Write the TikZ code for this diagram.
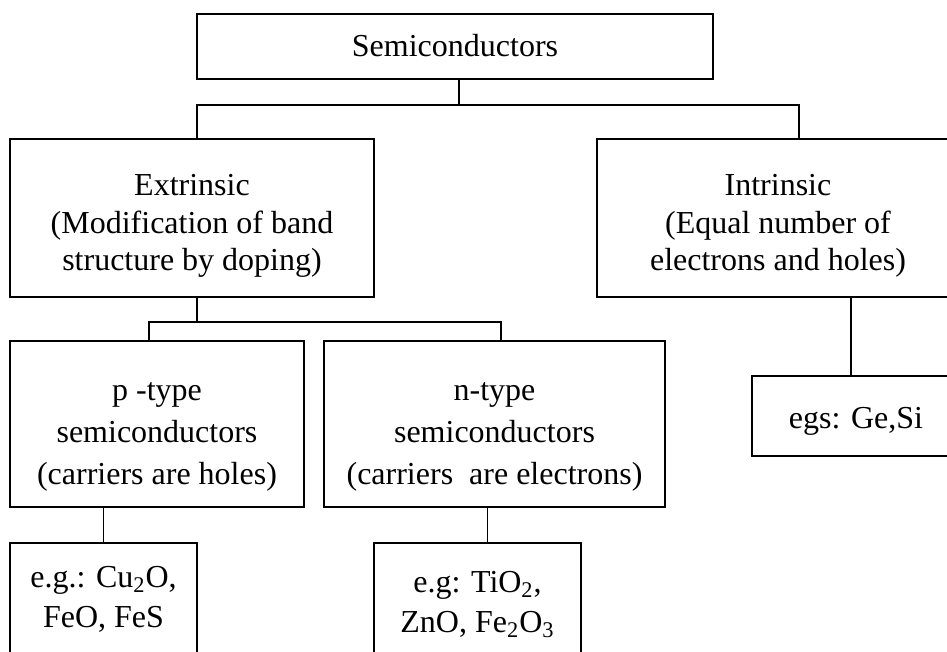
\documentclass[tikz,border=0pt]{standalone}
\usepackage{fontspec}
\setmainfont{Liberation Serif}
\usetikzlibrary{positioning}
% text block moved down inside its box, box size kept
\newcommand{\lowtext}[2]{\raisebox{-#1}[\height][\depth]{\begin{tabular}{@{}c@{}}#2\end{tabular}}}

\begin{document}
\begin{tikzpicture}[x=0.5pt, y=-0.5pt,
   box/.style={draw, line width=0.7pt, inner sep=0pt,
               font=\fontsize{16}{18.75}\selectfont},
   tallbox/.style={box, font=\fontsize{16}{21}\selectfont},
   exbox/.style={box, font=\fontsize{16}{20}\selectfont},
   link/.style={line width=0.7pt}]

 \useasboundingbox (0,0) rectangle (947,652);
 \clip (0,0) rectangle (947,652);

 \node[box, minimum width=258pt, minimum height=32.5pt] (semi) at (455,46.5)
      {\lowtext{1.5pt}{Semiconductors}};
 \node[box, minimum width=182pt, minimum height=79pt] (extr) at (192,218)
      {\lowtext{4pt}{Extrinsic\\(Modification of band\\structure by doping)}};
 \node[box, minimum width=181pt, minimum height=79pt] (intr) at (778,218)
      {\lowtext{4pt}{Intrinsic\\(Equal number of\\electrons and holes)}};

 \node[tallbox, minimum width=147pt, minimum height=83pt] (ptype) at (157,424)
      {\lowtext{5pt}{p -type\\semiconductors\\(carriers are holes)}};
 \node[tallbox, minimum width=170.5pt, minimum height=83pt] (ntype) at (494.5,424)
      {\lowtext{5pt}{n-type\\semiconductors\\(carriers~ are electrons)}};
 \node[box, minimum width=104pt, minimum height=40pt] (egs) at (856,416)
      {\lowtext{2.5pt}{egs: Ge,Si}};

 \node[exbox, minimum width=93.5pt, minimum height=56pt] (pex) at (103.5,599)
      {\lowtext{0pt}{e.g.: Cu\textsubscript{2}O,\\FeO, FeS}};
 \node[exbox, minimum width=103.5pt, minimum height=59pt] (nex) at (477.5,602)
      {\lowtext{1pt}{e.g: TiO\textsubscript{2},\\ZnO, Fe\textsubscript{2}O\textsubscript{3}}};

 % tree connectors
 \coordinate (bus1) at (459,105);
 \coordinate (bus2) at (197,322);
 \draw[link] ([xshift=2pt]semi.south) -- (bus1);
 \draw[link] ([xshift=2.5pt]extr.north) |- (bus1) -| ([xshift=10.5pt]intr.north);
 \draw[link] ([xshift=2.5pt]extr.south) -- (bus2);
 \draw[link] ([xshift=-4pt]ptype.north) |- (bus2) -| ([xshift=3.25pt]ntype.north);
 \draw[link] (pex.north) -- (pex.north |- ptype.south);
 \draw[link] ([xshift=5pt]nex.north) -- ([xshift=5pt]nex.north |- ntype.south);
 \draw[link] ([xshift=-2.5pt]egs.north) -- ([xshift=-2.5pt]egs.north |- intr.south);
\end{tikzpicture}
\end{document}
